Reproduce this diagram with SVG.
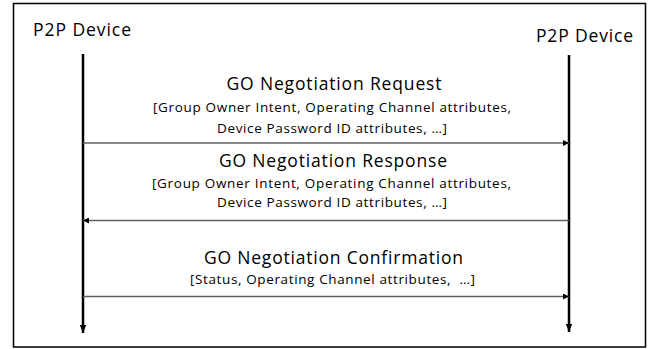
<svg xmlns="http://www.w3.org/2000/svg" width="652" height="349" viewBox="0 0 652 349">
  <defs>
    <style>
      .t { font-family: "Open Sans", "Noto Sans", "Liberation Sans", sans-serif; fill: #000; font-variant-ligatures: none; }
      .dev { font-size: 17.5px; }
      .title { font-size: 17.5px; text-anchor: middle; }
      .sub { font-size: 13.5px; text-anchor: middle; }
      .life { stroke: #000; stroke-width: 2.5; fill: none; }
      .msg { stroke: #606060; stroke-width: 1.5; fill: none; }
    </style>
    <marker id="ah" viewBox="0 0 10 10" refX="10" refY="5" markerWidth="6" markerHeight="6" markerUnits="userSpaceOnUse" orient="auto">
      <path d="M0,0 L10,5 L0,10 Z" fill="#000"/>
    </marker>
    <marker id="lh" viewBox="0 0 10 10" refX="10" refY="5" markerWidth="8" markerHeight="8" markerUnits="userSpaceOnUse" orient="auto">
      <path d="M0,1 L10,5 L0,9 Z" fill="#000"/>
    </marker>
  </defs>
  <rect x="13.5" y="3.5" width="632" height="343.5" fill="#fff" stroke="#000" stroke-width="1.5"/>

  <g id="device-left">
    <text class="t dev" x="33" y="36" textLength="98">P2P Device</text>
    <line class="life" x1="83" y1="54" x2="83" y2="333" marker-end="url(#lh)"/>
  </g>
  <g id="device-right">
    <text class="t dev" x="536" y="42" textLength="97">P2P Device</text>
    <line class="life" x1="569" y1="55" x2="569" y2="332" marker-end="url(#lh)"/>
  </g>

  <g id="connectors">
    <line class="msg" x1="83" y1="143" x2="569" y2="143" marker-end="url(#ah)"/>
    <line class="msg" x1="569" y1="220.5" x2="83" y2="220.5" marker-end="url(#ah)"/>
    <line class="msg" x1="83" y1="296.5" x2="569" y2="296.5" marker-end="url(#ah)"/>
  </g>

  <g id="label-request">
    <text class="t title" x="334" y="90" textLength="215">GO Negotiation Request</text>
    <text class="t sub" x="332" y="112" textLength="358">[Group Owner Intent, Operating Channel attributes,</text>
    <text class="t sub" x="332" y="133" textLength="230">Device Password ID attributes, …]</text>
  </g>
  <g id="label-response">
    <text class="t title" x="333" y="167" textLength="228">GO Negotiation Response</text>
    <text class="t sub" x="331.5" y="188" textLength="359">[Group Owner Intent, Operating Channel attributes,</text>
    <text class="t sub" x="332" y="207" textLength="230">Device Password ID attributes, …]</text>
  </g>
  <g id="label-confirmation">
    <text class="t title" x="333.5" y="264" textLength="259">GO Negotiation Confirmation</text>
    <text class="t sub" x="332.5" y="284" textLength="285" xml:space="preserve">[Status, Operating Channel attributes,  …]</text>
  </g>
</svg>
